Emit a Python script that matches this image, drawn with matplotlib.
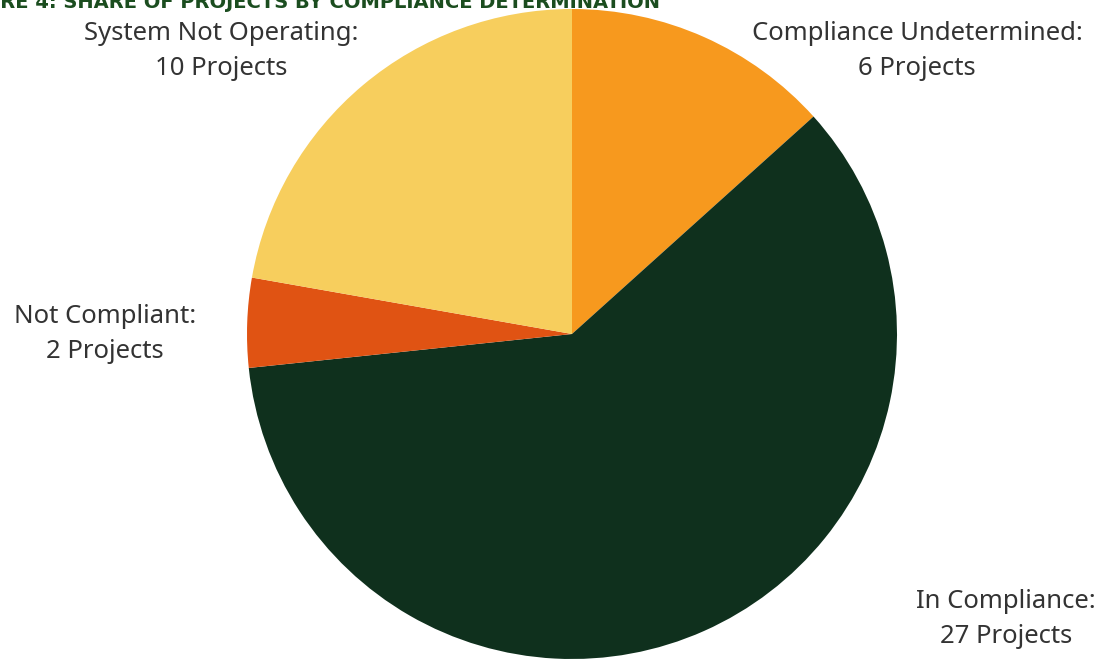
import matplotlib.pyplot as plt

# Compliance determinations, clockwise from 12 o'clock
categories = ["Compliance Undetermined", "In Compliance", "Not Compliant", "System Not Operating"]
projects = [6, 27, 2, 10]
colors = ["#F7991E", "#0F301D", "#E05313", "#F7CE5D"]

# label anchor points (pixels from the top-left corner)
label_pos = [(917, 51), (1006, 619), (105, 334), (221, 51)]

W, H = 1102, 663
fig = plt.figure(figsize=(W / 100, H / 100), dpi=100)
ax = fig.add_axes([0, 0, 1, 1])

ax.pie(projects, colors=colors, startangle=90, counterclock=False,
       radius=325, center=(572, H - 334), frame=True,
       wedgeprops=dict(linewidth=0))
ax.set_xlim(0, W)
ax.set_ylim(0, H)
ax.set_aspect("equal")
ax.axis("off")

for name, n, (x, y) in zip(categories, projects, label_pos):
    ax.text(x, H - y, f"{name}:\n{n} Projects", ha="center", va="center",
            fontsize=18.5, family="Noto Sans", color="#333333", linespacing=1.55)

# figure caption, cut off along the top edge
ax.text(660, H - 8, "FIGURE 4: SHARE OF PROJECTS BY COMPLIANCE DETERMINATION",
        ha="right", va="baseline", fontsize=14, fontweight="bold",
        family="DejaVu Sans", color="#1B4D1F")

fig.savefig("out.png", dpi=100)
